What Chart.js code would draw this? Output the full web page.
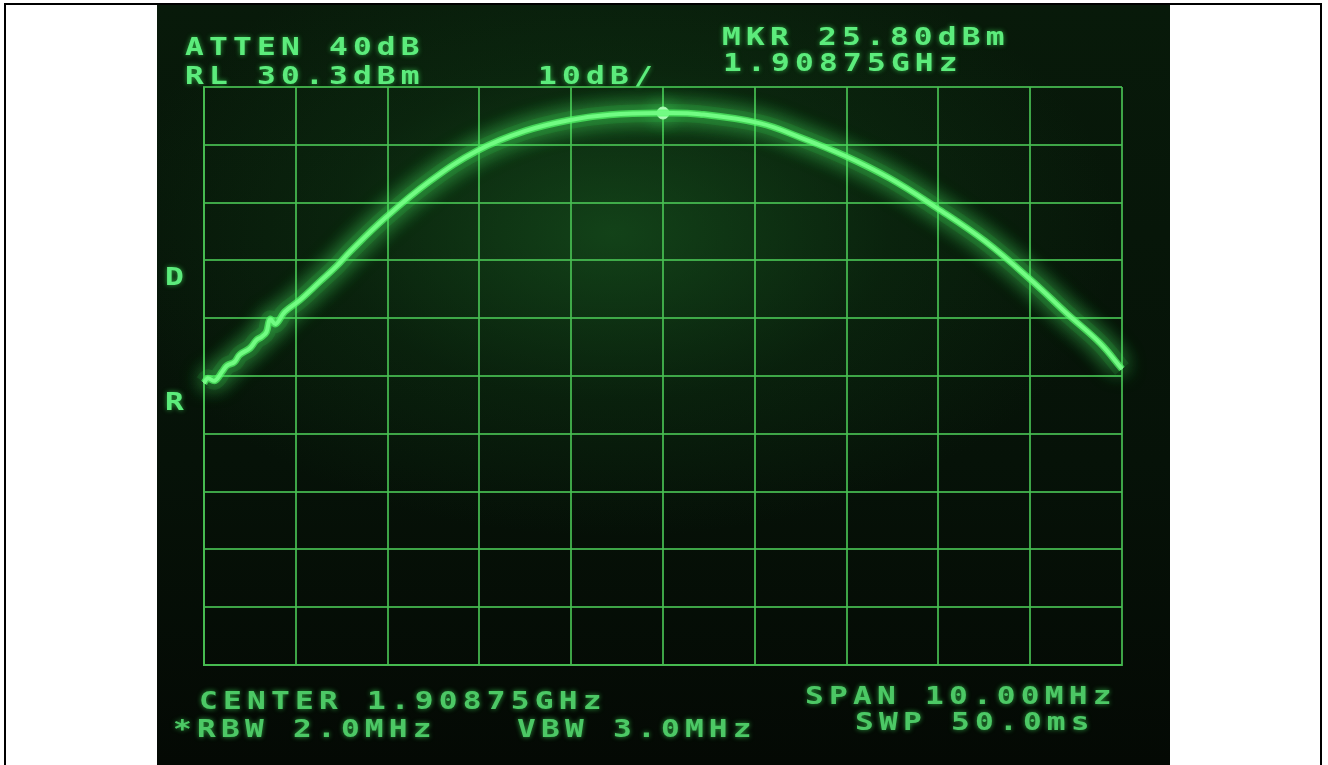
<!DOCTYPE html>
<html lang="en">
<head>
<meta charset="UTF-8">
<title>Spectrum analyzer</title>
<style>
  body {
    margin: 0;
    background: #fff;
    width: 1328px;
    height: 765px;
    overflow: hidden;
    position: relative;
    font-family: 'DejaVu Sans Mono', monospace;
  }
  .frame {
    position: absolute;
    left: 4px;
    top: 3px;
    width: 1314px;
    height: 790px;
    border: 2px solid #000;
  }
  .screen {
    position: absolute;
    left: 157px;
    top: 5px;
    width: 1013px;
    height: 760px;
    overflow: hidden;
    background:
      radial-gradient(ellipse 50% 40% at 45% 30%, rgba(30,110,40,0.5) 0%, rgba(20,80,28,0.22) 55%, rgba(0,0,0,0) 100%),
      linear-gradient(#081a0a, #061208 60%, #040904);
  }
  .plot {
    position: absolute;
    left: 0;
    top: 0;
    width: 1013px;
    height: 760px;
  }
  .lbl {
    position: absolute;
    font-size: 24px;
    font-weight: bold;
    line-height: 1;
    letter-spacing: 4px;
    transform: scaleX(1.3);
    transform-origin: 0 0;
    white-space: pre;
    color: #5cec7c;
    text-shadow: 0 0 5px rgba(70,255,100,0.6);
  }
  .dim {
    color: #4cc865;
  }
</style>
</head>
<body>
<div class="frame"></div>
<div class="screen">
  <div class="plot"><canvas id="trace"></canvas></div>
  <div class="lbl" style="left:28px;top:30px">ATTEN 40dB</div>
  <div class="lbl" style="left:28px;top:59px">RL 30.3dBm</div>
  <div class="lbl" style="left:381px;top:59px">10dB/</div>
  <div class="lbl" style="left:565px;top:20px">MKR 25.80dBm</div>
  <div class="lbl" style="left:566px;top:46px">1.90875GHz</div>
  <div class="lbl" style="left:8px;top:260px">D</div>
  <div class="lbl" style="left:8px;top:385px">R</div>
  <div class="lbl dim" style="left:42px;top:684px">CENTER 1.90875GHz</div>
  <div class="lbl dim" style="left:16px;top:712px">*RBW 2.0MHz</div>
  <div class="lbl dim" style="left:360px;top:712px">VBW 3.0MHz</div>
  <div class="lbl dim" style="left:648px;top:679px">SPAN 10.00MHz</div>
  <div class="lbl dim" style="left:698px;top:705px">SWP 50.0ms</div>
</div>

<script src="https://cdn.jsdelivr.net/npm/chart.js"></script>
<script>
  // trace, MHz vs dBm
  const freqMHz = [
    1903.75, 1903.79, 1903.87, 1903.95, 1904.00, 1904.08, 1904.14, 1904.25,
    1904.32, 1904.38, 1904.43, 1904.47, 1904.53, 1904.63, 1904.80, 1905.01,
    1905.20, 1905.34, 1905.72, 1906.21, 1906.73, 1907.25, 1907.74, 1908.17,
    1908.75, 1909.15, 1909.81, 1910.24, 1910.73, 1911.22, 1911.73, 1912.26,
    1912.78, 1913.15, 1913.51, 1913.75
  ];
  const levelDbm = [
    -20.9, -20.1, -20.5, -18.9, -17.9, -17.3, -16.0, -14.9,
    -13.5, -12.9, -12.1, -9.9, -10.7, -8.6, -6.5, -3.4,
    -0.6, 1.8, 7.6, 14.0, 19.3, 22.7, 24.6, 25.5,
    25.8, 25.6, 24.0, 21.6, 18.4, 14.5, 9.4, 3.6,
    -3.4, -8.9, -14.0, -18.5
  ];
  const markerMHz = [1908.75];
  const markerDbm = [25.8];

  // graticule: 10 div x 10 div
  const xGridMHz = [1903.75, 1904.75, 1905.75, 1906.75, 1907.75, 1908.75, 1909.75, 1910.75, 1911.75, 1912.75, 1913.75];
  const yGridDbm = [30.3, 20.3, 10.3, 0.3, -9.7, -19.7, -29.7, -39.7, -49.7, -59.7, -69.7];

  const gridColor = 'rgba(72,190,82,0.85)';

  const glow = {
    id: 'glow',
    beforeDatasetDraw(chart) {
      const ctx = chart.ctx;
      ctx.save();
      ctx.shadowColor = 'rgba(80,255,110,1)';
      ctx.shadowBlur = 22;
    },
    afterDatasetDraw(chart) {
      chart.ctx.restore();
    }
  };

  const points = freqMHz.map((f, i) => ({ x: f, y: levelDbm[i] }));

  new Chart(document.getElementById('trace'), {
    type: 'line',
    data: {
      datasets: [
        {
          data: points,
          borderColor: 'rgba(60,230,80,0.12)',
          borderWidth: 18,
          pointRadius: 0,
          tension: 0.4,
          clip: false
        },
        {
          data: points,
          borderColor: 'rgba(90,255,110,0.7)',
          borderWidth: 7,
          pointRadius: 0,
          tension: 0.4,
          clip: false
        },
        {
          data: points,
          borderColor: '#f0fff0',
          borderWidth: 4,
          pointRadius: 0,
          tension: 0.4,
          clip: false
        },
        {
          data: markerMHz.map((f, i) => ({ x: f, y: markerDbm[i] })),
          showLine: false,
          pointRadius: 6,
          pointBackgroundColor: '#f4fff2',
          pointBorderColor: '#f4fff2',
          clip: false
        }
      ]
    },
    options: {
      responsive: true,
      maintainAspectRatio: false,
      animation: false,
      layout: { padding: { left: 47, right: 48, top: 82, bottom: 100 } },
      plugins: {
        legend: { display: false },
        tooltip: { enabled: false }
      },
      scales: {
        x: {
          type: 'linear',
          min: xGridMHz[0],
          max: xGridMHz[xGridMHz.length - 1],
          afterBuildTicks: (scale) => { scale.ticks = xGridMHz.map(v => ({ value: v })); },
          ticks: { display: false },
          grid: { color: gridColor, lineWidth: 2, drawTicks: false },
          border: { color: gridColor, width: 2 }
        },
        y: {
          min: yGridDbm[yGridDbm.length - 1],
          max: yGridDbm[0],
          afterBuildTicks: (scale) => { scale.ticks = yGridDbm.map(v => ({ value: v })); },
          ticks: { display: false },
          grid: { color: gridColor, lineWidth: 2, drawTicks: false },
          border: { color: gridColor, width: 2 }
        }
      }
    },
    plugins: [glow]
  });
</script>
</body>
</html>
